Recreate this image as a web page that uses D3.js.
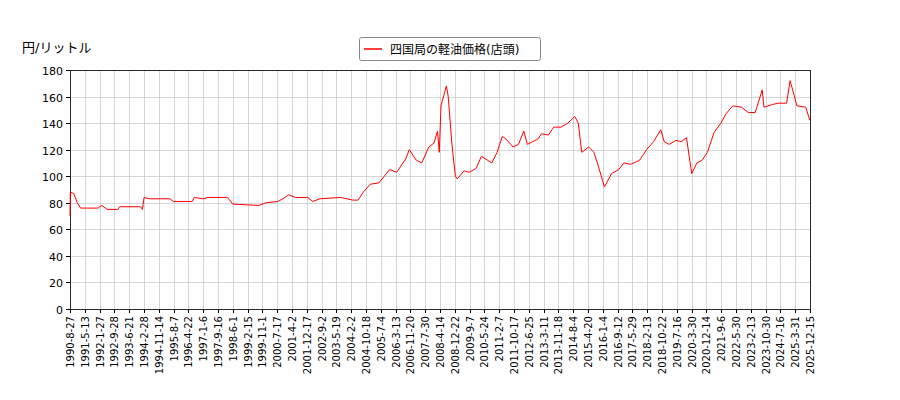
<!DOCTYPE html>
<html><head><meta charset="utf-8">
<script src="https://cdn.jsdelivr.net/npm/d3@7"></script>
<style>body{margin:0;background:#fff}text{font-family:"DejaVu Sans","Noto Sans CJK JP",sans-serif}</style>
</head><body><svg id="c" width="900" height="400"></svg>
<script>
const tickLabels = ['1990-8-27','1991-5-13','1992-1-27','1992-9-28','1993-6-21','1994-2-28','1994-11-14','1995-8-7','1996-4-22','1997-1-6','1997-9-16','1998-6-1','1999-2-15','1999-11-1','2000-7-17','2001-4-2','2001-12-17','2002-9-2','2003-5-19','2004-2-2','2004-10-18','2005-7-4','2006-3-13','2006-11-20','2007-7-30','2008-4-14','2008-12-22','2009-9-7','2010-5-24','2011-2-7','2011-10-17','2012-6-25','2013-3-11','2013-11-18','2014-8-4','2015-4-20','2016-1-4','2016-9-12','2017-5-29','2018-2-13','2018-10-22','2019-7-16','2020-3-30','2020-12-14','2021-9-6','2022-5-30','2023-2-13','2023-10-30','2024-7-16','2025-3-31','2025-12-15'];
const dates = ['1990-08-27','1990-09','1990-11','1991-01','1991-03','1992-01','1992-03','1992-06','1992-12','1993-01','1994-01','1994-02','1994-03','1994-06','1995-06','1995-08','1996-07','1996-08','1997-01','1997-04','1998-03','1998-06','1999-09','2000-01','2000-08','2000-12','2001-02','2001-06','2002-01','2002-04','2002-08','2003-08','2004-03','2004-06','2004-09','2005-01','2005-06','2005-09','2005-12','2006-04','2006-09','2006-11','2007-03','2007-06','2007-10','2008-01','2008-03','2008-04','2008-05','2008-08','2008-09','2008-11','2009-01','2009-02','2009-06','2009-09','2010-01','2010-04','2010-10','2011-01','2011-04','2011-06','2011-10','2012-01','2012-04','2012-06','2012-09','2012-12','2013-02','2013-06','2013-09','2014-01','2014-05','2014-09','2014-11','2015-01','2015-05','2015-08','2015-10','2016-02','2016-06','2016-10','2017-01','2017-05','2017-10','2018-02','2018-06','2018-10','2018-12','2019-03','2019-07','2019-10','2020-01','2020-04','2020-07','2020-10','2021-01','2021-05','2021-09','2021-12','2022-04','2022-09','2023-01','2023-05','2023-09','2023-10','2024-03','2024-06','2024-11','2025-01','2025-05','2025-10','2025-12-15'];
const prices = [70,88,87,80,76,76,78,75,75,77,77,75,84,83,83,81,81,84,83,84,84,79,78,80,81,84,86,84,84,81,83,84,82,82,88,94,95,100,105,103,113,120,112,110,122,125,134,118,153,168,160,125,100,98,104,103,106,115,110,118,130,128,122,124,134,124,126,128,132,131,137,137,140,145,140,118,122,118,110,92,102,105,110,109,112,120,126,135,126,124,127,126,129,102,110,112,118,133,140,147,153,152,148,148,165,152,154,155,155,172,153,152,142];
const yTicks = d3.range(0, 181, 20);

const parse = s => { const p = s.split('-').map(Number); return new Date(p[0], p[1]-1, p[2]||1); };
const data = dates.map((d,i) => ({date: parse(d), v: prices[i]}));
const svg = d3.select('#c');
const m = {l:70, r:810, t:70, b:309};
// tick labels are evenly spaced, so map dates piecewise between them
const x = d3.scaleTime().domain(tickLabels.map(parse))
  .range(tickLabels.map((t,i) => m.l + i*(m.r-m.l)/(tickLabels.length-1)));
const y = d3.scaleLinear().domain([0,180]).range([m.b, m.t]);
const g = svg.append('g');
tickLabels.forEach(t => {
  const px = Math.round(x(parse(t)))+0.5;
  g.append('line').attr('x1',px).attr('x2',px).attr('y1',m.t).attr('y2',m.b).attr('stroke','#ccc').attr('stroke-width',0.8);
  g.append('line').attr('x1',px).attr('x2',px).attr('y1',m.b).attr('y2',m.b+4).attr('stroke','#000');
  g.append('text').attr('transform',`translate(${px+3.5},${m.b+7}) rotate(-90)`).attr('text-anchor','end').attr('font-size',10).text(t);
});
yTicks.forEach(t => {
  const py = Math.round(y(t))+0.5;
  g.append('line').attr('x1',m.l).attr('x2',m.r).attr('y1',py).attr('y2',py).attr('stroke','#ccc').attr('stroke-width',0.8);
  g.append('line').attr('x1',m.l-4).attr('x2',m.l).attr('y1',py).attr('y2',py).attr('stroke','#000');
  g.append('text').attr('x',m.l-7).attr('y',py+4).attr('text-anchor','end').attr('font-size',11).text(t);
});
g.append('rect').attr('x',m.l+0.5).attr('y',m.t+0.5).attr('width',m.r-m.l).attr('height',m.b-m.t).attr('fill','none').attr('stroke','#000').attr('stroke-width',0.8);
g.append('path').datum(data).attr('fill','none').attr('stroke','#f00').attr('stroke-width',1)
  .attr('d', d3.line().x(d=>x(d.date)).y(d=>y(d.v)));
svg.append('text').attr('x',22).attr('y',52).attr('font-size',13).text('円/リットル');
const lg = svg.append('g');
lg.append('rect').attr('x',359.5).attr('y',37.5).attr('width',181).attr('height',23).attr('fill','#fff').attr('stroke','#888').attr('rx',2);
lg.append('line').attr('x1',364).attr('x2',382).attr('y1',49).attr('y2',49).attr('stroke','#f00').attr('stroke-width',1.5);
lg.append('text').attr('x',390).attr('y',53.5).attr('font-size',12).text('四国局の軽油価格(店頭)');
</script></body></html>
